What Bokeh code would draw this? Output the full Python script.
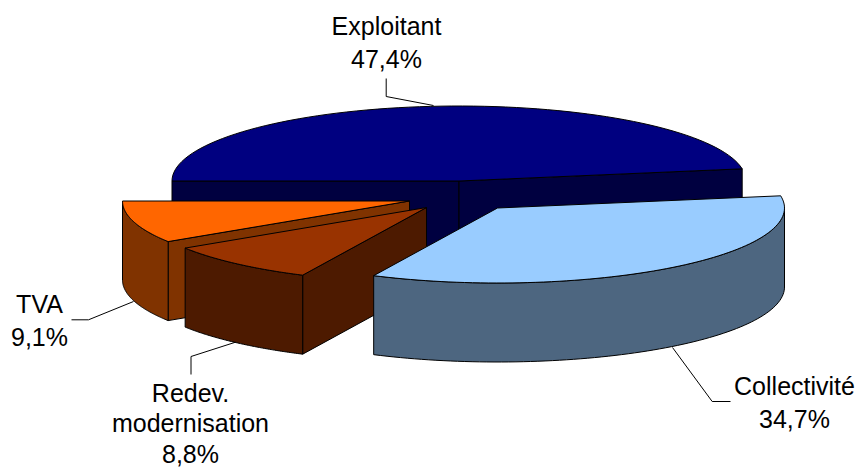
import numpy as np
from bokeh.embed import file_html
from bokeh.models import Range1d
from bokeh.plotting import figure
from bokeh.resources import INLINE
from bokeh.core.properties import value

categories = ["Exploitant", "Collectivité", "Redev. modernisation", "TVA"]
values = [47.4, 34.7, 8.8, 9.1]
label_lines = [["Exploitant"], ["Collectivité"], ["Redev.", "modernisation"], ["TVA"]]
top_colors = ["#000080", "#99CCFF", "#993300", "#FF6600"]
side_colors = ["#000040", "#4D6680", "#4D1A00", "#803300"]
offsets = [(458.5, 180.5), (497, 207.5), (426, 207), (409, 200.5)]
label_pos = [(386, 25), (794, 385), (190, 392), (39, 303)]
line_heights = [33, 33, 30.5, 33]
leaders = [
    ([385.7, 385.7, 433], [78, 96, 105]),
    ([672, 711.7, 730], [347, 401, 401]),
    ([190.5, 190.5, 235], [374, 356, 341.7]),
    ([71, 88, 133], [319.3, 319.3, 301]),
]
RX, RY, DEPTH = 287, 75, 79
START = 180.0

W, H = 856, 468
p = figure(width=W, height=H, output_backend="svg", toolbar_location=None,
           x_range=Range1d(0, W), y_range=Range1d(H, 0), min_border=0)
p.axis.visible = False
p.grid.visible = False
p.outline_line_color = None


def pt(c, deg):
    t = np.radians(deg)
    return c[0] + RX * np.cos(t), c[1] - RY * np.sin(t)


def arc(c, a0, a1, n=80):
    t = np.radians(np.linspace(a0, a1, n))
    return c[0] + RX * np.cos(t), c[1] - RY * np.sin(t)


xs, ys, fills = [], [], []


def add(x, y, col):
    xs.append(list(map(float, x)))
    ys.append(list(map(float, y)))
    fills.append(col)


def cut_face(c, deg, col):
    x1, y1 = pt(c, deg)
    add([c[0], x1, x1, c[0]], [c[1], y1, y1 + DEPTH, c[1] + DEPTH], col)


angle = START
spans = []
for v in values:
    spans.append((angle, angle - v * 3.6))
    angle -= v * 3.6

for i in [0, 3, 2, 1]:
    a0, a1 = spans[i]
    c = offsets[i]
    # radial faces that look towards the viewer
    if i == 0:
        cut_face(c, a0, side_colors[i])
        cut_face(c, a1, side_colors[i])
    if i in (2, 3):
        cut_face(c, a0, side_colors[i])
    # outer wall, only the front half of the ellipse is visible
    f0, f1 = min(a0, 0.0), max(a1, -180.0)
    if f0 > f1:
        ax, ay = arc(c, f0, f1)
        add(np.r_[ax, ax[::-1]], np.r_[ay, ay[::-1] + DEPTH], side_colors[i])
    # top
    ax, ay = arc(c, a0, a1)
    add(np.r_[c[0], ax], np.r_[c[1], ay], top_colors[i])

p.patches(xs, ys, fill_color=fills, line_color="black", line_width=1, line_join="miter")

for lx, ly in leaders:
    p.line(lx, ly, line_color="black", line_width=1)

for lines, v, (x, y), lh in zip(label_lines, values, label_pos, line_heights):
    rows = lines + [f"{v:.1f}%".replace(".", ",")]
    p.text([x] * len(rows), [y + k * lh for k in range(len(rows))], text=rows,
           text_font=value("Liberation Sans"), text_font_size="25px",
           text_align="center", text_baseline="middle", text_color="black")

open("out.html", "w").write(file_html(p, INLINE))
